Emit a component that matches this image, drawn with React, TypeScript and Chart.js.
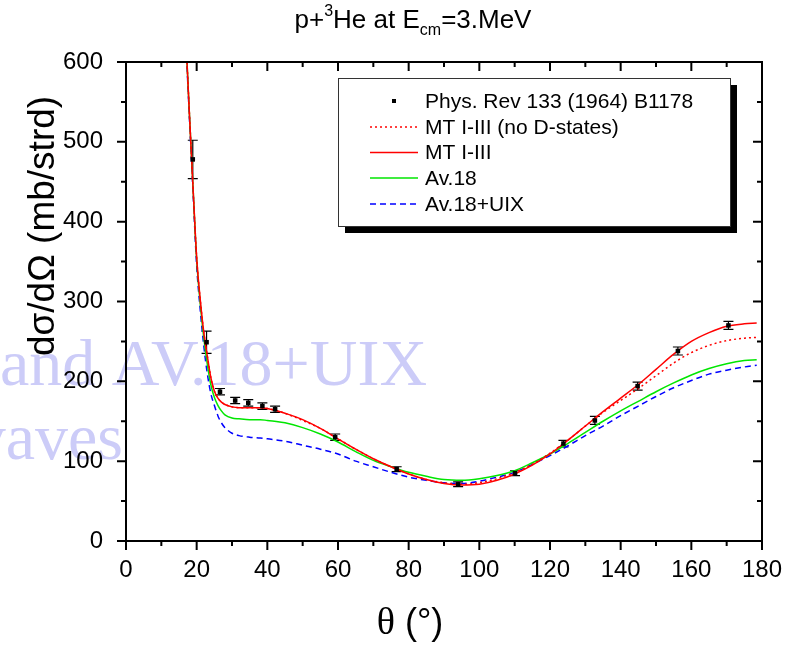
import React, { useEffect, useRef } from "react";
import { Chart, registerables } from "chart.js";

Chart.register(...registerables);

// ---------- data ----------
const expTheta = [18.9, 22.8, 26.6, 30.9, 34.6, 38.6, 42.2, 59.2, 76.6, 94.0, 110.1, 123.8, 132.7, 144.8, 156.2, 170.5];
const expValue = [478, 249, 187, 176, 173, 169, 165, 130, 90, 71, 85, 122, 151, 194, 238, 270];
const expError = [24, 14, 4, 4, 4, 4, 4, 4, 3, 3, 3, 4, 5, 5, 5, 5];

const thetaGrid = [17, 18, 19, 20, 21, 22, 23, 24, 25, 26, 27, 28, 30, 32, 35, 38, 40, 42, 45, 50, 55, 60, 65, 70, 75, 80, 85, 90, 95, 100, 105, 110, 115, 120, 125, 130, 135, 140, 145, 150, 155, 160, 165, 170, 175, 178.5];
const mtNoD = [625, 530, 440, 355, 303, 262, 232, 205, 188, 179, 174, 171, 168, 167, 167, 167, 166, 164, 160, 151, 141, 128, 115, 103, 93, 84, 77, 73, 71, 73, 78, 86, 96, 110, 126, 144, 161, 176, 191, 207, 223, 236, 245, 251, 254, 255];
const mt = [625, 530, 440, 355, 303, 262, 232, 205, 188, 179, 174, 171, 168, 167, 167, 167, 166, 164, 160, 152, 141, 128, 115, 103, 93, 84, 77, 72, 70, 71, 76, 84, 95, 109, 126, 144, 162, 179, 196, 215, 234, 250, 261, 269, 272, 273];
const av18 = [625, 530, 440, 352, 298, 255, 222, 196, 180, 170, 163, 158, 154, 153, 152, 152, 151, 150, 148, 142, 134, 124, 112, 101, 93, 86, 81, 77, 76, 78, 82, 88, 98, 109, 122, 136, 150, 163, 175, 187, 198, 208, 216, 222, 226, 227];
const av18uix = [620, 525, 435, 345, 290, 245, 210, 185, 170, 157, 148, 142, 135, 132, 130, 129, 128, 127, 125, 120, 115, 109, 100, 93, 86, 80, 76, 73, 72, 75, 80, 86, 96, 107, 119, 132, 144, 157, 169, 181, 192, 201, 209, 214, 218, 220];

const legendLabels = ["Phys. Rev 133 (1964) B1178", "MT I-III (no D-states)", "MT I-III", "Av.18", "Av.18+UIX"];
const xTickStep = 20;
const yTickStep = 100;
const watermarkLines = ["and AV.18+UIX", "vaves"];

const SANS = '"Liberation Sans", Arial, sans-serif';
const SERIF = '"Liberation Serif", "Times New Roman", serif';

const RED = "rgb(255,0,0)";
const GREEN = "rgb(0,230,0)";
const BLUE = "rgb(0,0,255)";

const pts = (ys: number[]) => thetaGrid.map((x, i) => ({ x, y: ys[i] }));

const decorPlugin = {
  id: "decor",
  beforeDraw(chart: any) {
    const ctx = chart.ctx;
    ctx.save();
    ctx.fillStyle = "#fff";
    ctx.fillRect(0, 0, chart.width, chart.height);
    ctx.fillStyle = "rgb(204,204,248)";
    ctx.font = `66px ${SERIF}`;
    ctx.textBaseline = "alphabetic";
    ctx.textAlign = "left";
    ctx.fillText(watermarkLines[0], 0, 385);
    ctx.textAlign = "right";
    ctx.fillText(watermarkLines[1], 123, 459);
    ctx.restore();
  },
  beforeDatasetsDraw(chart: any) {
    const ctx = chart.ctx;
    const xs = chart.scales.x;
    const ys = chart.scales.y;
    ctx.save();
    ctx.strokeStyle = "#000";
    ctx.lineWidth = 1.2;
    expTheta.forEach((t, i) => {
      const x = xs.getPixelForValue(t);
      const y1 = ys.getPixelForValue(expValue[i] + expError[i]);
      const y2 = ys.getPixelForValue(expValue[i] - expError[i]);
      ctx.beginPath();
      ctx.moveTo(x, y1);
      ctx.lineTo(x, y2);
      ctx.moveTo(x - 5, y1);
      ctx.lineTo(x + 5, y1);
      ctx.moveTo(x - 5, y2);
      ctx.lineTo(x + 5, y2);
      ctx.stroke();
    });
    ctx.restore();
  },
  afterDraw(chart: any) {
    const ctx = chart.ctx;
    const { left, right, top, bottom } = chart.chartArea;
    const xs = chart.scales.x;
    const ys = chart.scales.y;
    ctx.save();
    // frame
    ctx.strokeStyle = "#000";
    ctx.lineWidth = 2;
    ctx.strokeRect(left, top, right - left, bottom - top);
    // ticks
    ctx.beginPath();
    for (let v = xs.min; v <= xs.max; v += xTickStep / 2) {
      const x = xs.getPixelForValue(v);
      const len = v % xTickStep === 0 ? 9 : 5;
      ctx.moveTo(x, bottom);
      ctx.lineTo(x, bottom + len);
      ctx.moveTo(x, top);
      ctx.lineTo(x, top + len);
    }
    for (let v = ys.min; v <= ys.max; v += yTickStep / 2) {
      const y = ys.getPixelForValue(v);
      const len = v % yTickStep === 0 ? 9 : 5;
      ctx.moveTo(left, y);
      ctx.lineTo(left - len, y);
      ctx.moveTo(right, y);
      ctx.lineTo(right - len, y);
    }
    ctx.stroke();

    // title p+3He at Ecm=3.MeV
    ctx.fillStyle = "#000";
    ctx.textBaseline = "alphabetic";
    ctx.textAlign = "left";
    const big = `26px ${SANS}`;
    const small = `16px ${SANS}`;
    const parts: [string, string, number][] = [
      ["p+", big, 0],
      ["3", small, -12],
      ["He at E", big, 0],
      ["cm", small, 7],
      ["=3.MeV", big, 0],
    ];
    let total = 0;
    parts.forEach(([t, f]) => {
      ctx.font = f;
      total += ctx.measureText(t).width;
    });
    let cx = 413 - total / 2;
    parts.forEach(([t, f, dy]) => {
      ctx.font = f;
      ctx.fillText(t, cx, 28 + dy);
      cx += ctx.measureText(t).width;
    });

    // x title
    ctx.font = `38px ${SERIF}`;
    const th = "\u03b8";
    const wth = ctx.measureText(th).width;
    ctx.font = `36px ${SANS}`;
    const rest = " (\u00b0)";
    const wr = ctx.measureText(rest).width;
    const xx = 410 - (wth + wr) / 2;
    ctx.font = `38px ${SERIF}`;
    ctx.fillText(th, xx, 634);
    ctx.font = `36px ${SANS}`;
    ctx.fillText(rest, xx + wth, 634);

    // y title
    ctx.save();
    ctx.translate(54, 226);
    ctx.rotate(-Math.PI / 2);
    ctx.textAlign = "center";
    ctx.font = `37px ${SANS}`;
    ctx.fillText("d\u03c3/d\u03a9 (mb/strd)", 0, 0);
    ctx.restore();

    // legend
    const bx = 338, by = 78, bw = 392, bh = 148;
    ctx.fillStyle = "#000";
    ctx.fillRect(bx + 7, by + 7, bw, bh);
    ctx.fillStyle = "#fff";
    ctx.fillRect(bx, by, bw, bh);
    ctx.strokeStyle = "#333";
    ctx.lineWidth = 1;
    ctx.strokeRect(bx + 0.5, by + 0.5, bw, bh);
    const rowY = [101, 127, 152.5, 178, 204];
    const ds = chart.data.datasets;
    ctx.font = `21px ${SANS}`;
    ctx.textBaseline = "middle";
    ctx.textAlign = "left";
    legendLabels.forEach((lab, i) => {
      const y = rowY[i];
      if (i === 0) {
        ctx.fillStyle = "#000";
        ctx.fillRect(392, y - 2, 4, 4);
      } else {
        const d = ds[i];
        ctx.save();
        ctx.strokeStyle = d.borderColor;
        ctx.lineWidth = d.borderWidth;
        ctx.setLineDash(d.borderDash || []);
        ctx.beginPath();
        ctx.moveTo(370, y);
        ctx.lineTo(418, y);
        ctx.stroke();
        ctx.restore();
      }
      ctx.fillStyle = "#000";
      ctx.fillText(lab, 425, y + 1);
    });
    ctx.restore();
  },
};

export default function App() {
  const ref = useRef<HTMLCanvasElement | null>(null);
  useEffect(() => {
    if (!ref.current) return;
    const lineBase = { pointRadius: 0, borderWidth: 1.5, cubicInterpolationMode: "monotone" as const, fill: false };
    const chart = new Chart(ref.current, {
      type: "line",
      data: {
        datasets: [
          {
            label: legendLabels[0],
            data: expTheta.map((x, i) => ({ x, y: expValue[i] })),
            showLine: false,
            pointStyle: "rect",
            pointRadius: 3.2,
            pointBackgroundColor: "#000",
            pointBorderColor: "#000",
            pointBorderWidth: 0,
            borderColor: "#000",
          },
          { label: legendLabels[1], data: pts(mtNoD), borderColor: RED, borderDash: [2, 3], ...lineBase },
          { label: legendLabels[2], data: pts(mt), borderColor: RED, ...lineBase },
          { label: legendLabels[3], data: pts(av18), borderColor: GREEN, ...lineBase },
          { label: legendLabels[4], data: pts(av18uix), borderColor: BLUE, borderDash: [6, 4], ...lineBase },
        ] as any,
      },
      options: {
        responsive: false,
        animation: false,
        devicePixelRatio: 1,
        layout: { padding: { left: 0, right: 40, top: 62, bottom: 0 } },
        plugins: { legend: { display: false }, tooltip: { enabled: false }, title: { display: false } },
        scales: {
          x: {
            type: "linear",
            min: 0,
            max: 180,
            grid: { display: false },
            border: { display: false },
            ticks: { stepSize: xTickStep, autoSkip: false, maxRotation: 0, color: "#000", padding: 7, font: { family: SANS, size: 24 } },
            afterFit: (s: any) => {
              s.height = 104;
            },
          },
          y: {
            type: "linear",
            min: 0,
            max: 600,
            grid: { display: false },
            border: { display: false },
            ticks: { stepSize: yTickStep, autoSkip: false, color: "#000", padding: 15, font: { family: SANS, size: 24 } },
            afterFit: (s: any) => {
              s.width = 126;
            },
          },
        },
      } as any,
      plugins: [decorPlugin],
    });
    return () => chart.destroy();
  }, []);
  return (
    <div style={{ position: "fixed", left: 0, top: 0, width: 802, height: 645, background: "#fff" }}>
      <canvas ref={ref} width={802} height={645} style={{ display: "block" }} />
    </div>
  );
}
